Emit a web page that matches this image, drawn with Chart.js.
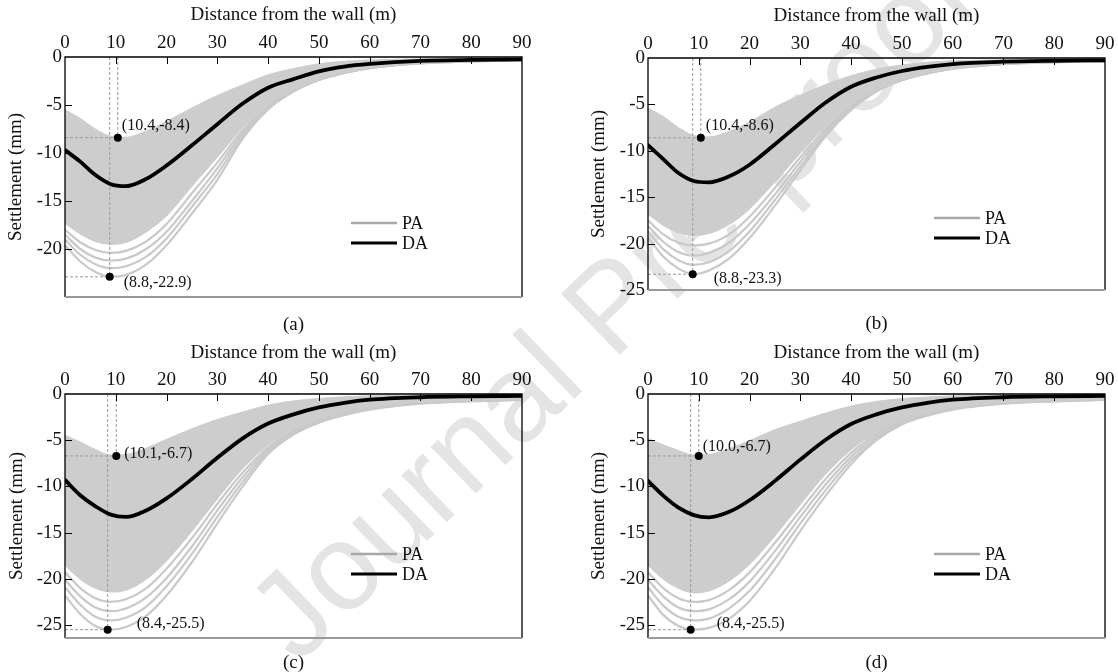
<!DOCTYPE html>
<html>
<head>
<meta charset="utf-8">
<title>Settlement profiles</title>
<script src="https://cdn.jsdelivr.net/npm/chart.js@4.4.1/dist/chart.umd.min.js"></script>
<style>
  html, body { margin: 0; padding: 0; background: #fff; }
  #page { position: relative; width: 1118px; height: 672px; overflow: hidden; }
  .panel { position: absolute; width: 559px; height: 336px; z-index: 1; }
  #watermark {
    position: absolute; left: 610px; top: 305px; z-index: 0;
    transform: translate(-50%, -50%) rotate(-44deg);
    font: 123px "Liberation Sans", sans-serif; color: #e4e4e4; white-space: nowrap;
  }
</style>
</head>
<body>
<div id="page">
  <div id="watermark">Journal Pre-proof</div>
  <div class="panel" style="left:0;top:0"><canvas id="chartA" width="559" height="336"></canvas></div>
  <div class="panel" style="left:559px;top:0"><canvas id="chartB" width="559" height="336"></canvas></div>
  <div class="panel" style="left:0;top:336px"><canvas id="chartC" width="559" height="336"></canvas></div>
  <div class="panel" style="left:559px;top:336px"><canvas id="chartD" width="559" height="336"></canvas></div>
</div>
<script>
// 壁からの距離 (m)
const DIST = [0, 3, 6, 9, 12, 16, 20, 25, 30, 35, 40, 45, 50, 55, 60, 70, 80, 90];
const X_TICKS = [0, 10, 20, 30, 40, 50, 60, 70, 80, 90];
const Y_TICKS_A = [0, -5, -10, -15, -20];
const Y_TICKS_B = [0, -5, -10, -15, -20, -25];

// (a)
const DA_A      = [-9.7, -10.9, -12.3, -13.25, -13.45, -12.7, -11.3, -9.2, -7.0, -4.85, -3.2, -2.3, -1.5, -1.0, -0.72, -0.4, -0.3, -0.25];
const PA_TOP_A  = [-5.5, -6.4, -7.5, -8.25, -8.35, -7.7, -6.7, -5.3, -4.0, -2.9, -1.85, -1.2, -0.7, -0.45, -0.3, -0.2, -0.15, -0.12];
const PA_BASE_A = [-17.3, -18.4, -19.2, -19.5, -19.3, -18.2, -16.5, -13.4, -10.4, -7.3, -5.0, -3.4, -2.3, -1.6, -1.1, -0.6, -0.42, -0.32];
const PA_LOW1_A = [-18.0, -19.3, -20.1, -20.4, -20.2, -19.2, -17.4, -14.2, -11.0, -7.6, -5.15, -3.45, -2.33, -1.62, -1.12, -0.62, -0.43, -0.33];
const PA_LOW2_A = [-18.5, -20.0, -20.9, -21.2, -21.0, -20.0, -18.2, -15.0, -11.6, -7.9, -5.25, -3.5, -2.36, -1.64, -1.14, -0.64, -0.44, -0.34];
const PA_LOW3_A = [-19.0, -20.6, -21.6, -22.0, -21.8, -20.8, -18.9, -15.6, -12.2, -8.2, -5.35, -3.55, -2.38, -1.65, -1.15, -0.65, -0.45, -0.35];
const PA_MIN_A  = [-19.6, -21.3, -22.4, -22.9, -22.7, -21.6, -19.6, -16.3, -12.8, -8.5, -5.45, -3.6, -2.4, -1.66, -1.16, -0.66, -0.46, -0.36];
const MAX_PT_A = [10.4, -8.4];
const MIN_PT_A = [8.8, -22.9];

// (b)
const DA_B      = [-9.4, -10.9, -12.4, -13.25, -13.4, -12.75, -11.5, -9.3, -7.0, -4.8, -3.1, -2.1, -1.4, -0.95, -0.65, -0.4, -0.3, -0.25];
const PA_TOP_B  = [-5.4, -6.3, -7.5, -8.35, -8.5, -7.9, -6.9, -5.3, -4.0, -2.85, -1.9, -1.2, -0.75, -0.45, -0.3, -0.2, -0.15, -0.12];
const PA_BASE_B = [-16.8, -18.0, -18.8, -19.1, -18.9, -17.9, -16.2, -13.3, -10.2, -7.3, -5.0, -3.4, -2.3, -1.6, -1.1, -0.6, -0.42, -0.32];
const PA_LOW1_B = [-17.5, -19.0, -19.9, -20.2, -20.0, -19.0, -17.1, -14.0, -10.7, -7.6, -5.15, -3.45, -2.33, -1.62, -1.12, -0.62, -0.43, -0.33];
const PA_LOW2_B = [-18.1, -19.8, -20.9, -21.3, -21.0, -19.9, -17.9, -14.7, -11.2, -7.9, -5.3, -3.5, -2.36, -1.64, -1.14, -0.64, -0.44, -0.34];
const PA_LOW3_B = [-18.7, -20.6, -21.8, -22.3, -22.0, -20.8, -18.7, -15.3, -11.7, -8.2, -5.45, -3.55, -2.38, -1.65, -1.15, -0.65, -0.45, -0.35];
const PA_MIN_B  = [-19.3, -21.4, -22.7, -23.3, -22.9, -21.6, -19.4, -15.9, -12.1, -8.4, -5.6, -3.6, -2.4, -1.66, -1.16, -0.66, -0.46, -0.36];
const MAX_PT_B = [10.4, -8.6];
const MIN_PT_B = [8.8, -23.3];

// (c)
const DA_C      = [-9.3, -10.95, -12.15, -13.05, -13.3, -12.6, -11.3, -9.2, -6.9, -4.8, -3.2, -2.2, -1.45, -0.95, -0.62, -0.35, -0.25, -0.2];
const PA_TOP_C  = [-4.45, -5.2, -6.0, -6.6, -6.55, -5.85, -4.9, -3.75, -2.75, -1.95, -1.2, -0.75, -0.48, -0.3, -0.2, -0.12, -0.1, -0.08];
const PA_BASE_C = [-18.5, -20.0, -21.0, -21.4, -21.2, -20.0, -18.0, -14.8, -11.3, -8.0, -5.5, -3.8, -2.6, -1.85, -1.35, -0.85, -0.62, -0.5];
const PA_LOW1_C = [-19.3, -21.0, -22.1, -22.5, -22.2, -21.0, -18.9, -15.6, -11.9, -8.5, -5.8, -3.95, -2.75, -1.97, -1.43, -0.9, -0.66, -0.54];
const PA_LOW2_C = [-20.1, -21.9, -23.1, -23.5, -23.2, -22.0, -19.9, -16.5, -12.6, -9.0, -6.0, -4.1, -2.9, -2.1, -1.52, -0.95, -0.71, -0.58];
const PA_LOW3_C = [-20.9, -22.8, -24.1, -24.5, -24.2, -23.0, -20.8, -17.3, -13.3, -9.5, -6.25, -4.25, -3.0, -2.2, -1.6, -1.0, -0.76, -0.62];
const PA_MIN_C  = [-21.8, -23.8, -25.1, -25.5, -25.2, -24.0, -21.8, -18.2, -14.0, -10.0, -6.5, -4.4, -3.1, -2.3, -1.7, -1.05, -0.8, -0.65];
const MAX_PT_C = [10.1, -6.7];
const MIN_PT_C = [8.4, -25.5];

// (d)
const DA_D      = [-9.4, -11.0, -12.3, -13.1, -13.35, -12.75, -11.5, -9.4, -7.1, -4.95, -3.25, -2.2, -1.45, -0.95, -0.62, -0.35, -0.25, -0.2];
const PA_TOP_D  = [-4.8, -5.5, -6.1, -6.6, -6.55, -5.9, -5.05, -3.85, -2.95, -2.05, -1.3, -0.8, -0.5, -0.32, -0.2, -0.12, -0.1, -0.08];
const PA_BASE_D = [-18.5, -20.0, -21.0, -21.5, -21.3, -20.2, -18.4, -15.3, -11.9, -8.6, -6.0, -4.1, -2.8, -1.95, -1.4, -0.9, -0.65, -0.52];
const PA_LOW1_D = [-19.3, -21.0, -22.1, -22.5, -22.3, -21.2, -19.3, -16.1, -12.6, -9.2, -6.4, -4.3, -2.95, -2.05, -1.47, -0.94, -0.69, -0.55];
const PA_LOW2_D = [-20.1, -21.9, -23.1, -23.5, -23.3, -22.2, -20.3, -17.0, -13.3, -9.8, -6.8, -4.55, -3.08, -2.15, -1.55, -0.98, -0.73, -0.59];
const PA_LOW3_D = [-20.9, -22.9, -24.1, -24.5, -24.3, -23.2, -21.3, -17.9, -14.0, -10.4, -7.2, -4.8, -3.2, -2.25, -1.62, -1.02, -0.77, -0.62];
const PA_MIN_D  = [-21.8, -23.9, -25.1, -25.5, -25.3, -24.3, -22.4, -18.9, -14.8, -11.0, -7.6, -5.0, -3.3, -2.35, -1.7, -1.05, -0.8, -0.65];
const MAX_PT_D = [10.0, -6.7];
const MIN_PT_D = [8.4, -25.5];

const SERIF = '"Liberation Serif", "Times New Roman", serif';
const BAND_COLOR = '#cdcdcd';

// 配列を {x, y} の点列に変換
function pts(values) {
    return DIST.map((d, i) => ({ x: d, y: values[i] }));
}

function curve(values, extra) {
    return Object.assign({
        data: pts(values),
        borderColor: '#c9c9c9',
        borderWidth: 2.2,
        pointRadius: 0,
        fill: false,
        cubicInterpolationMode: 'monotone',
        order: 10
    }, extra);
}

// 破線のガイド
function guide(points) {
    return {
        data: points,
        borderColor: '#9a9a9a',
        borderWidth: 1,
        borderDash: [3, 2],
        pointRadius: 0,
        fill: false,
        order: 5
    };
}

// 目盛り・枠・注記・凡例・キャプション
const panelDecor = {
    id: 'panelDecor',
    afterDatasetsDraw(chart, args, o) {
        const { ctx, chartArea: a, scales } = chart;
        const x = scales.x, y = scales.y;
        ctx.save();

        // 内向きの目盛り
        ctx.strokeStyle = '#000';
        ctx.lineWidth = 1;
        ctx.beginPath();
        X_TICKS.forEach(v => {
            if (v <= 0 || v >= 90) return;
            const px = Math.round(x.getPixelForValue(v)) + 0.5;
            ctx.moveTo(px, a.top);
            ctx.lineTo(px, a.top + 7);
        });
        o.yTicks.forEach(v => {
            if (v === 0) return;
            const py = Math.round(y.getPixelForValue(v)) + 0.5;
            ctx.moveTo(a.left, py);
            ctx.lineTo(a.left + 7, py);
        });
        ctx.stroke();

        // 枠
        ctx.lineWidth = 1.3;
        ctx.beginPath();
        ctx.moveTo(a.left, a.bottom);
        ctx.lineTo(a.left, a.top);
        ctx.lineTo(a.right, a.top);
        ctx.lineTo(a.right, a.bottom);
        ctx.stroke();
        ctx.strokeStyle = '#999';
        ctx.lineWidth = 2;
        ctx.beginPath();
        ctx.moveTo(a.left, a.bottom);
        ctx.lineTo(a.right, a.bottom);
        ctx.stroke();

        // 最大・最小点の注記
        ctx.fillStyle = '#111';
        ctx.font = '16px ' + SERIF;
        ctx.textAlign = 'left';
        ctx.textBaseline = 'middle';
        [[o.maxPt, o.maxOff], [o.minPt, o.minOff]].forEach(([p, off]) => {
            const px = x.getPixelForValue(p[0]);
            const py = y.getPixelForValue(p[1]);
            ctx.fillText('(' + p[0].toFixed(1) + ',' + p[1].toFixed(1) + ')', px + off[0], py + off[1]);
        });

        // 凡例
        ctx.font = '18px ' + SERIF;
        [['PA', '#a8a8a8', 2.5, o.legendY], ['DA', '#000', 3.2, o.legendY + 20]].forEach(([t, c, w, ly]) => {
            const yy = a.top + ly;
            ctx.strokeStyle = c;
            ctx.lineWidth = w;
            ctx.beginPath();
            ctx.moveTo(a.left + 286, yy);
            ctx.lineTo(a.left + 332, yy);
            ctx.stroke();
            ctx.fillText(t, a.left + 337, yy + 1);
        });

        // キャプション
        ctx.font = '19px ' + SERIF;
        ctx.textAlign = 'center';
        ctx.fillText(o.caption, (a.left + a.right) / 2, a.bottom + o.captionOff);
        ctx.restore();
    }
};

function makeChart(id, p) {
    const font = { family: SERIF, size: 19 };
    const datasets = [
        // 点
        {
            data: [{ x: p.maxPt[0], y: p.maxPt[1] }, { x: p.minPt[0], y: p.minPt[1] }],
            showLine: false,
            pointRadius: 4,
            pointBackgroundColor: '#000',
            pointBorderWidth: 0,
            order: 0
        },
        // DA
        curve(p.da, { borderColor: '#000', borderWidth: 3.8, order: 1, borderCapStyle: 'round' }),
        guide([{ x: p.maxPt[0], y: 0 }, { x: p.maxPt[0], y: p.maxPt[1] }]),
        guide([{ x: p.minPt[0], y: 0 }, { x: p.minPt[0], y: p.minPt[1] }]),
        guide([{ x: 0, y: p.maxPt[1] }, { x: p.maxPt[0], y: p.maxPt[1] }]),
        guide([{ x: 0, y: p.minPt[1] }, { x: p.minPt[0], y: p.minPt[1] }]),
        // PA の帯
        curve(p.top, { borderColor: BAND_COLOR, borderWidth: 1, backgroundColor: BAND_COLOR, fill: '+1' }),
        curve(p.base, { borderColor: BAND_COLOR, borderWidth: 1.5 }),
        curve(p.low1),
        curve(p.low2),
        curve(p.low3),
        curve(p.min)
    ];

    return new Chart(document.getElementById(id), {
        type: 'line',
        data: { datasets: datasets },
        options: {
            responsive: false,
            animation: false,
            events: [],
            layout: { padding: { left: 0, top: 0, right: p.padRight, bottom: p.padBottom } },
            plugins: {
                legend: { display: false },
                tooltip: { enabled: false },
                panelDecor: p
            },
            scales: {
                x: {
                    type: 'linear',
                    position: 'top',
                    min: 0,
                    max: 90,
                    afterBuildTicks: s => { s.ticks = X_TICKS.map(v => ({ value: v })); },
                    afterFit: s => { s.height = p.xHeight; },
                    grid: { display: false, drawTicks: false },
                    border: { display: false },
                    ticks: { padding: 3, font: font, color: '#111', maxRotation: 0, autoSkip: false },
                    title: {
                        display: true,
                        text: 'Distance from the wall (m)',
                        font: font,
                        color: '#111',
                        padding: { top: p.xTitlePad, bottom: 0 }
                    }
                },
                y: {
                    type: 'linear',
                    position: 'left',
                    min: p.yMin,
                    max: 0,
                    afterBuildTicks: s => { s.ticks = p.yTicks.map(v => ({ value: v })); },
                    afterFit: s => { s.width = p.yWidth; },
                    grid: { display: false, drawTicks: false },
                    border: { display: false },
                    ticks: { padding: 3, font: font, color: '#111', autoSkip: false },
                    title: {
                        display: true,
                        text: 'Settlement (mm)',
                        font: font,
                        color: '#111',
                        padding: { top: p.yTitlePad, bottom: 0 }
                    }
                }
            }
        },
        plugins: [panelDecor]
    });
}

makeChart('chartA', {
    da: DA_A, top: PA_TOP_A, base: PA_BASE_A, low1: PA_LOW1_A, low2: PA_LOW2_A, low3: PA_LOW3_A, min: PA_MIN_A,
    maxPt: MAX_PT_A, minPt: MIN_PT_A, yTicks: Y_TICKS_A, yMin: -25, caption: '(a)',
    yWidth: 65, xHeight: 57, padRight: 37, padBottom: 39, xTitlePad: 4, yTitlePad: 5,
    maxOff: [4, -12], minOff: [14, 6], legendY: 166, captionOff: 28
});
makeChart('chartB', {
    da: DA_B, top: PA_TOP_B, base: PA_BASE_B, low1: PA_LOW1_B, low2: PA_LOW2_B, low3: PA_LOW3_B, min: PA_MIN_B,
    maxPt: MAX_PT_B, minPt: MIN_PT_B, yTicks: Y_TICKS_B, yMin: -25, caption: '(b)',
    yWidth: 89, xHeight: 58, padRight: 13, padBottom: 46, xTitlePad: 5, yTitlePad: 29,
    maxOff: [5, -12], minOff: [21, 5], legendY: 160, captionOff: 34
});
makeChart('chartC', {
    da: DA_C, top: PA_TOP_C, base: PA_BASE_C, low1: PA_LOW1_C, low2: PA_LOW2_C, low3: PA_LOW3_C, min: PA_MIN_C,
    maxPt: MAX_PT_C, minPt: MIN_PT_C, yTicks: Y_TICKS_B, yMin: -26.4, caption: '(c)',
    yWidth: 65, xHeight: 58, padRight: 37, padBottom: 34, xTitlePad: 6, yTitlePad: 6,
    maxOff: [8, -2], minOff: [29, -6], legendY: 160, captionOff: 25
});
makeChart('chartD', {
    da: DA_D, top: PA_TOP_D, base: PA_BASE_D, low1: PA_LOW1_D, low2: PA_LOW2_D, low3: PA_LOW3_D, min: PA_MIN_D,
    maxPt: MAX_PT_D, minPt: MIN_PT_D, yTicks: Y_TICKS_B, yMin: -26.4, caption: '(d)',
    yWidth: 89, xHeight: 58, padRight: 13, padBottom: 34, xTitlePad: 6, yTitlePad: 29,
    maxOff: [4, -9], minOff: [26, -6], legendY: 160, captionOff: 25
});
</script>
</body>
</html>
